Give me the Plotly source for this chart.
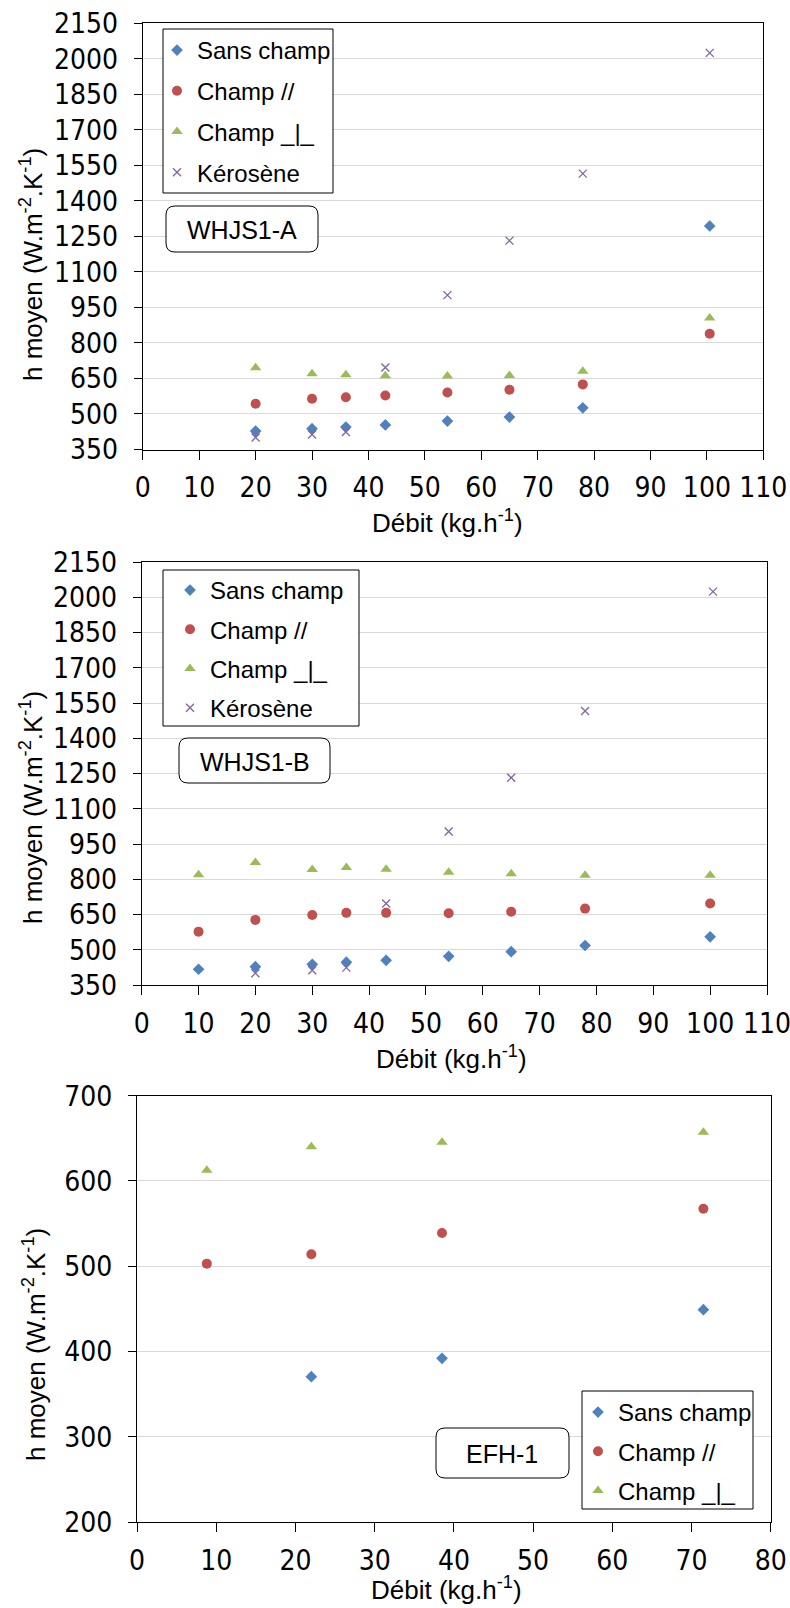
import plotly.graph_objects as go

W, H = 790, 1608

# ---------------- data ----------------
series_names = ["Sans champ", "Champ //", "Champ _|_", "Kérosène"]

# WHJS1-A
xA = [20, 30, 36, 43, 54, 65, 78, 100.5]
sansA = [428, 438, 445, 454, 470, 487, 526, 1294]
paraA = [543, 564, 571, 578, 591, 602, 625, 839]
perpA = [695, 670, 666, 661, 660, 663, 680, 905]
keroA_x = [20, 30, 36, 43, 54, 65, 78, 100.5]
keroA = [401, 413, 424, 696, 1002, 1232, 1515, 2025]

# WHJS1-B
xB = [10, 20, 30, 36, 43, 54, 65, 78, 100]
sansB = [417, 428, 438, 447, 455, 472, 492, 518, 555]
paraB = [577, 627, 648, 657, 657, 655, 662, 675, 697]
perpB = [819, 871, 841, 850, 843, 830, 823, 817, 817]
keroB_x = [20, 30, 36, 43, 54, 65, 78, 100.5]
keroB = [400, 413, 424, 697, 1003, 1232, 1516, 2024]

# EFH-1
sansC_x = [22, 38.5, 71.5]
sansC = [370.5, 392, 449]
xC = [8.8, 22, 38.5, 71.5]
paraC = [503, 514, 539, 567.5]
perpC = [612.5, 640, 645.5, 657]

y_ticks_AB = [350, 500, 650, 800, 950, 1100, 1250, 1400, 1550, 1700, 1850, 2000, 2150]
x_ticks_AB = [0, 10, 20, 30, 40, 50, 60, 70, 80, 90, 100, 110]
y_ticks_C = [200, 300, 400, 500, 600, 700]
x_ticks_C = [0, 10, 20, 30, 40, 50, 60, 70, 80]

panel_labels = ["WHJS1-A", "WHJS1-B", "EFH-1"]

# ---------------- style ----------------
C_BLUE = "#4F81BD"
C_RED = "#C0504D"
C_GREEN = "#9BBB59"
C_PURPLE = "#8064A2"
TICKFONT = dict(family="Liberation Sans Narrow, Arial Narrow, DejaVu Sans Condensed, Liberation Sans",
                size=28, color="#000000")
TXT = "Liberation Sans, Arial, sans-serif"


def px_x(v):
    return v / W


def px_y(v):
    return 1 - v / H


fig = go.Figure()


def add_series(x, y, name, xa, ya, legend, color, symbol, size, show=True):
    mk = dict(color=color, symbol=symbol, size=size)
    if symbol == "x-thin":
        mk = dict(color=color, symbol=symbol, size=size, line=dict(color=color, width=1.3))
    fig.add_trace(go.Scatter(x=x, y=y, mode="markers", name=name, xaxis=xa, yaxis=ya,
                             legend=legend, legendgroup=legend + name, marker=mk,
                             showlegend=show, cliponaxis=False))


add_series(xA, sansA, series_names[0], "x", "y", "legend", C_BLUE, "diamond", 9)
add_series(xA, paraA, series_names[1], "x", "y", "legend", C_RED, "circle", 10)
add_series(xA, perpA, series_names[2], "x", "y", "legend", C_GREEN, "triangle-up", 10)
add_series(keroA_x, keroA, series_names[3], "x", "y", "legend", C_PURPLE, "x-thin", 8)

add_series(xB, sansB, series_names[0], "x2", "y2", "legend2", C_BLUE, "diamond", 9)
add_series(xB, paraB, series_names[1], "x2", "y2", "legend2", C_RED, "circle", 10)
add_series(xB, perpB, series_names[2], "x2", "y2", "legend2", C_GREEN, "triangle-up", 10)
add_series(keroB_x, keroB, series_names[3], "x2", "y2", "legend2", C_PURPLE, "x-thin", 8)

add_series(sansC_x, sansC, series_names[0], "x3", "y3", "legend3", C_BLUE, "diamond", 9)
add_series(xC, paraC, series_names[1], "x3", "y3", "legend3", C_RED, "circle", 10)
add_series(xC, perpC, series_names[2], "x3", "y3", "legend3", C_GREEN, "triangle-up", 10)

# plot areas in pixels (left, right, top, bottom)
areas = [
    (142.8, 763.3, 23.3, 449.5),
    (141.7, 767.0, 562.0, 985.0),
    (137.1, 770.7, 1095.7, 1522.0),
]


def axis_common():
    return dict(showline=True, linecolor="#000000", linewidth=1.2, mirror=True,
                ticks="outside", ticklen=8, tickwidth=1.2, tickcolor="#000000",
                tickfont=TICKFONT, zeroline=False, fixedrange=True, automargin=False,
                ticklabeloverflow="allow")


layout_axes = {}
ranges = [((0, 110), (350, 2150), x_ticks_AB, y_ticks_AB),
          ((0, 110), (350, 2150), x_ticks_AB, y_ticks_AB),
          ((0, 80), (200, 700), x_ticks_C, y_ticks_C)]
for i, ((l, r, t, b), (xr, yr, xt, yt)) in enumerate(zip(areas, ranges)):
    sfx = "" if i == 0 else str(i + 1)
    xa = axis_common()
    xa.update(domain=[px_x(l), px_x(r)], range=list(xr), tickvals=xt, ticktext=[str(v) for v in xt],
              showgrid=False, anchor="y" + sfx, ticklen=9, ticklabelstandoff=4)
    ya = axis_common()
    ya.update(domain=[px_y(b), px_y(t)], range=list(yr), tickvals=yt, ticktext=[str(v) for v in yt],
              showgrid=True, gridcolor="#D9D9D9", gridwidth=1, anchor="x" + sfx, ticklabelstandoff=10)
    layout_axes["xaxis" + sfx] = xa
    layout_axes["yaxis" + sfx] = ya

shapes = []
annotations = []

# legend boxes (white, black border)
legend_boxes = [(163, 333, 29, 193), (163, 359, 570, 726), (582, 753, 1391, 1509)]
for (l, r, t, b) in legend_boxes:
    shapes.append(dict(type="rect", xref="paper", yref="paper", x0=px_x(l), x1=px_x(r),
                       y0=px_y(b), y1=px_y(t), line=dict(color="#000000", width=1),
                       fillcolor="#FFFFFF", layer="above"))


def rounded(l, r, t, b, rad=9):
    rx, ry = rad / W, rad / H
    x0, x1, y0, y1 = px_x(l), px_x(r), px_y(b), px_y(t)
    return (f"M {x0+rx},{y1} L {x1-rx},{y1} Q {x1},{y1} {x1},{y1-ry} "
            f"L {x1},{y0+ry} Q {x1},{y0} {x1-rx},{y0} L {x0+rx},{y0} "
            f"Q {x0},{y0} {x0},{y0+ry} L {x0},{y1-ry} Q {x0},{y1} {x0+rx},{y1} Z")


label_boxes = [(166, 318, 206, 252), (179, 330, 738, 783), (436, 569, 1428, 1478)]
for (l, r, t, b), txt in zip(label_boxes, panel_labels):
    shapes.append(dict(type="path", xref="paper", yref="paper", path=rounded(l, r, t, b),
                       line=dict(color="#000000", width=1), fillcolor="#FFFFFF", layer="above"))
    annotations.append(dict(xref="paper", yref="paper", x=px_x((l + r) / 2), y=px_y((t + b) / 2 + 1),
                            text=txt, showarrow=False, xanchor="center", yanchor="middle",
                            font=dict(family=TXT, size=25, color="#000000")))

ytitle = "h moyen (W.m<sup>-2</sup>.K<sup>-1</sup>)"
xtitle = "Débit (kg.h<sup>-1</sup>)"
ytitle_pos = [(31, 265), (31, 808), (34, 1345)]
xtitle_pos = [(447, 521), (451, 1057), (446, 1588)]
for (xp, yp) in ytitle_pos:
    annotations.append(dict(xref="paper", yref="paper", x=px_x(xp), y=px_y(yp), text=ytitle,
                            textangle=-90, showarrow=False, xanchor="center", yanchor="middle",
                            font=dict(family=TXT, size=26, color="#000000")))
for (xp, yp) in xtitle_pos:
    annotations.append(dict(xref="paper", yref="paper", x=px_x(xp), y=px_y(yp), text=xtitle,
                            showarrow=False, xanchor="center", yanchor="middle",
                            font=dict(family=TXT, size=26, color="#000000")))

leg_common = dict(bgcolor="rgba(0,0,0,0)", borderwidth=0, xanchor="left", yanchor="top",
                  font=dict(family=TXT, size=24, color="#000000"), tracegroupgap=5,
                  traceorder="grouped", itemclick=False, itemdoubleclick=False)
leg1 = dict(leg_common, x=px_x(157), y=px_y(28), tracegroupgap=6.5)
leg2 = dict(leg_common, x=px_x(170), y=px_y(568))
leg3 = dict(leg_common, x=px_x(578), y=px_y(1390))

fig.update_layout(
    template="none",
    width=W, height=H, margin=dict(l=0, r=0, t=0, b=0, pad=0),
    paper_bgcolor="#FFFFFF", plot_bgcolor="#FFFFFF",
    font=dict(family=TXT, color="#000000"),
    showlegend=True, legend=leg1, legend2=leg2, legend3=leg3,
    shapes=shapes, annotations=annotations, **layout_axes,
)

fig.write_html("out.html", config={"displayModeBar": False},
               post_script="document.body.style.margin='0';document.body.style.overflow='hidden';")
